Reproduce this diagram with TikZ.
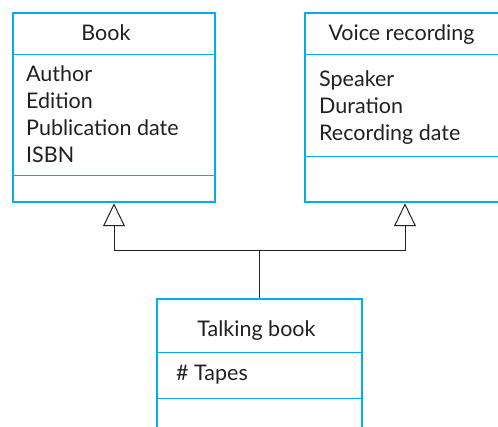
\documentclass[tikz,border=0pt]{standalone}
\usepackage{fontspec}
\setmainfont{Lato}
\usetikzlibrary{arrows.meta,positioning}
\definecolor{umlblue}{RGB}{0,174,239}
\definecolor{inkgray}{RGB}{35,31,32}

\begin{document}
\begin{tikzpicture}[x=1pt,y=-1pt,
  classbox/.style={draw=umlblue, line width=2.5pt, inner sep=0pt},
  sepline/.style={draw=umlblue, line width=1pt},
  classname/.style={font=\fontsize{21.5}{26}\selectfont, text=inkgray, anchor=base, inner sep=0pt},
  attr/.style={font=\fontsize{21.5}{26}\selectfont, text=inkgray, anchor=base west, inner sep=0pt},
  inherit/.style={draw=inkgray, line width=1pt, -{Triangle[open,length=23pt,width=22pt]}}]
  \useasboundingbox (0,0) rectangle (498,427);

  % classes
  \node[classbox, minimum width=202pt, minimum height=189pt] (book) at (114,107.5) {};
  \node[classbox, minimum width=200pt, minimum height=189pt] (voice) at (405,107.5) {};
  \node[classbox, minimum width=205pt, minimum height=171pt] (talking) at (259.5,384.5) {};

  \draw[sepline] (book.west |- 0,55) -- (book.east |- 0,55);
  \draw[sepline] (book.west |- 0,176) -- (book.east |- 0,176);
  \draw[sepline] (voice.west |- 0,55) -- (voice.east |- 0,55);
  \draw[sepline] (voice.west |- 0,157) -- (voice.east |- 0,157);
  \draw[sepline] (talking.west |- 0,353) -- (talking.east |- 0,353);
  \draw[sepline] (talking.west |- 0,399) -- (talking.east |- 0,399);

  % names
  \node[classname] (bookname) at (106,40.7) {Book};
  \node[classname] (voicename) at (401.5,40.7) {Voice recording};
  \node[classname] (talkingname) at (256.5,336.7) {Talking book};

  % attributes
  \foreach \t [count=\i] in {Author,Edition,Publication date,ISBN}
    \node[attr] (bookattr\i) at (26,{82+26.7*(\i-1)}) {\t};
  \foreach \t [count=\i] in {Speaker,Duration,Recording date}
    \node[attr] (voiceattr\i) at (319,{87+26.7*(\i-1)}) {\t};
  \node[attr] (talkingattr1) at (176,381) {\# Tapes};

  % generalisation
  \draw[draw=inkgray, line width=1pt] (talking.north) -- ++(0,-47) coordinate (joint);
  \draw[inherit] (joint) -| (book.south);
  \draw[inherit] (joint) -| (voice.south);
\end{tikzpicture}
\end{document}
